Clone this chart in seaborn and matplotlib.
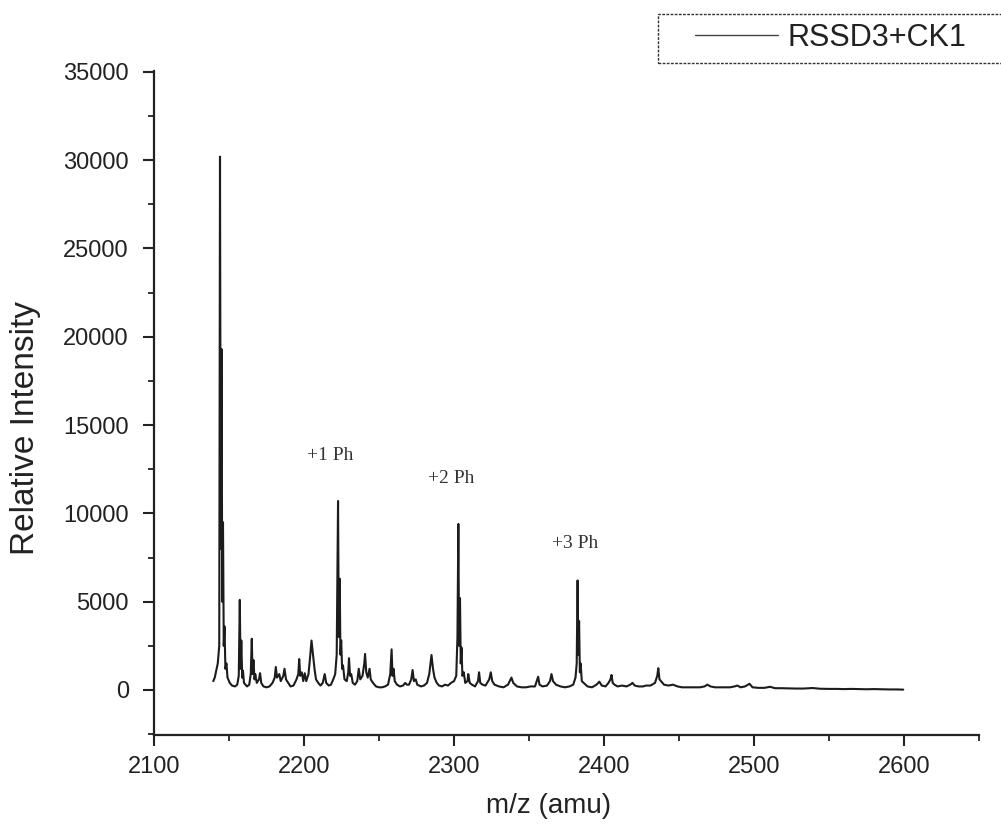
import matplotlib
matplotlib.use("Agg")
import matplotlib.pyplot as plt
from matplotlib.ticker import MultipleLocator
from matplotlib.patches import Rectangle
import seaborn as sns
import pandas as pd

# ---- data ----
mz = [2139.5, 2140.5, 2141.5, 2142.5, 2143.5, 2144.0, 2144.5, 2145.0, 2145.5, 2146.0,
      2146.5, 2147.0, 2147.6, 2148.3, 2149.0, 2150.5, 2152.0, 2154.0, 2155.5, 2156.5,
      2157.2, 2157.7, 2158.2, 2158.8, 2159.3, 2160.0, 2162.0, 2163.5, 2164.5, 2165.2,
      2165.7, 2166.3, 2167.0, 2167.5, 2168.5, 2170.0, 2170.7, 2171.5, 2173.0, 2175.0,
      2177.0, 2179.0, 2180.5, 2181.2, 2182.0, 2183.5, 2184.5, 2186.2, 2187.0, 2188.0,
      2189.5, 2191.0, 2193.0, 2195.0, 2196.2, 2196.8, 2197.5, 2198.5, 2199.5, 2200.5,
      2201.5, 2203.0, 2204.0, 2205.0, 2206.0, 2207.0, 2208.0, 2209.5, 2211.0, 2212.5,
      2213.8, 2214.8, 2216.5, 2218.0, 2219.5, 2220.8, 2221.8, 2222.7, 2223.2, 2223.8,
      2224.3, 2224.8, 2225.4, 2226.0, 2227.0, 2228.5, 2229.5, 2230.0, 2230.7, 2231.5,
      2232.5, 2234.0, 2235.5, 2236.5, 2237.5, 2239.0, 2240.2, 2240.7, 2241.5, 2242.5,
      2243.7, 2244.5, 2246.0, 2248.0, 2250.0, 2252.0, 2254.0, 2256.0, 2257.5, 2258.4,
      2259.0, 2259.7, 2260.5, 2262.0, 2264.0, 2266.0, 2267.5, 2268.5, 2270.0, 2271.5,
      2272.4, 2273.3, 2274.5, 2275.5, 2278.0, 2280.0, 2282.0, 2283.5, 2285.0, 2286.0,
      2287.0, 2288.5, 2290.0, 2292.0, 2294.0, 2296.0, 2298.0, 2300.0, 2301.5, 2302.3,
      2302.9, 2303.4, 2304.0, 2304.5, 2305.0, 2305.6, 2306.5, 2307.5, 2309.0, 2309.5,
      2310.5, 2312.0, 2314.0, 2316.0, 2316.7, 2317.5, 2319.0, 2321.0, 2323.5, 2324.5,
      2325.5, 2327.0, 2330.0, 2333.0, 2336.0, 2338.3, 2339.5, 2342.0, 2345.0, 2348.0,
      2351.0, 2354.0, 2356.1, 2357.0, 2359.0, 2362.0, 2364.0, 2365.0, 2366.0, 2368.0,
      2371.0, 2374.0, 2377.0, 2379.5, 2381.0, 2381.8, 2382.4, 2382.9, 2383.4, 2383.9,
      2384.4, 2385.2, 2386.5, 2389.0, 2392.0, 2395.0, 2396.9, 2398.5, 2401.0, 2403.0,
      2404.3, 2405.0, 2405.8, 2407.0, 2409.0, 2412.0, 2415.0, 2417.5, 2419.0, 2420.5,
      2423.0, 2426.0, 2428.0, 2431.0, 2434.0, 2435.5, 2436.2, 2437.0, 2438.0, 2440.0,
      2443.0, 2446.0, 2449.0, 2452.0, 2455.0, 2458.0, 2461.0, 2464.0, 2467.0, 2469.0,
      2471.0, 2474.0, 2478.0, 2481.0, 2484.0, 2487.0, 2489.0, 2491.0, 2494.0, 2497.0,
      2499.0, 2503.0, 2507.0, 2510.7, 2514.0, 2518.0, 2523.0, 2528.0, 2533.0, 2539.0,
      2544.0, 2550.0, 2555.0, 2560.0, 2565.0, 2570.0, 2575.0, 2580.0, 2585.0, 2590.0,
      2595.0, 2599.5]
intensity = [500, 700, 1100, 1500, 2500, 30200, 8000, 19300, 5000, 9500,
             2500, 3600, 1200, 1500, 700, 400, 250, 200, 300, 800,
             5100, 1200, 2800, 700, 1100, 400, 200, 300, 900, 2900,
             900, 1700, 600, 900, 400, 600, 950, 400, 200, 150,
             200, 400, 700, 1300, 700, 900, 500, 800, 1200, 600,
             400, 200, 250, 600, 900, 1750, 800, 1000, 500, 950,
             500, 900, 1800, 2800, 2000, 1200, 600, 400, 250, 400,
             900, 400, 250, 300, 600, 900, 2000, 10700, 3000, 6300,
             2000, 2800, 1200, 1400, 600, 500, 1000, 1800, 800, 900,
             400, 300, 500, 1200, 600, 800, 1500, 2040, 1000, 700,
             1200, 600, 400, 200, 150, 150, 200, 300, 900, 2300,
             800, 1200, 500, 300, 200, 250, 400, 300, 300, 600,
             1130, 500, 600, 300, 200, 250, 400, 900, 1980, 1200,
             700, 400, 250, 200, 300, 250, 400, 500, 800, 3000,
             9400, 2500, 5200, 1500, 2400, 800, 1000, 400, 500, 900,
             400, 300, 200, 500, 1000, 400, 300, 250, 600, 1000,
             500, 300, 200, 150, 300, 700, 400, 200, 150, 150,
             200, 200, 750, 300, 200, 250, 500, 900, 500, 300,
             200, 150, 200, 300, 700, 1500, 6200, 2000, 3900, 1000,
             1500, 500, 400, 200, 150, 300, 470, 250, 200, 400,
             600, 850, 400, 300, 200, 250, 200, 300, 400, 250,
             200, 200, 250, 250, 400, 800, 1230, 600, 500, 300,
             250, 300, 200, 150, 150, 150, 150, 150, 200, 300,
             200, 150, 150, 150, 150, 200, 250, 150, 200, 350,
             150, 120, 120, 180, 100, 100, 90, 80, 80, 110,
             70, 60, 60, 50, 60, 50, 40, 50, 40, 30,
             30, 20]

series_label = "RSSD3+CK1"
annot_text = ["+1 Ph", "+2 Ph", "+3 Ph"]
annot_mz = [2217.3, 2298.3, 2380.7]
annot_int = [13300, 12000, 8300]

x_ticks = [2100, 2200, 2300, 2400, 2500, 2600]
y_ticks = [0, 5000, 10000, 15000, 20000, 25000, 30000, 35000]

# ---- style ----
sns.set_style("ticks")
plt.rcParams['font.family'] = ['Liberation Sans', 'DejaVu Sans']

W, H = 1001, 838
fig = plt.figure(figsize=(W / 100, H / 100), dpi=100)
ax = fig.add_axes([154 / W, 1 - 735 / H, (979 - 154) / W, (735 - 71) / H])

df = pd.DataFrame({"mz": mz, "intensity": intensity})
sns.lineplot(data=df, x="mz", y="intensity", sort=False, estimator=None,
             color="#1c1c1c", linewidth=1.5, ax=ax, label=series_label, legend=False)

ax.set_xlim(2100, 2650)
ax.set_ylim(-2550, 35050)
ax.set_xticks(x_ticks)
ax.set_yticks(y_ticks)
ax.xaxis.set_minor_locator(MultipleLocator(50))
ax.yaxis.set_minor_locator(MultipleLocator(2500))

for s in ["top", "right"]:
    ax.spines[s].set_visible(False)
for s in ["left", "bottom"]:
    ax.spines[s].set_linewidth(1.6)
    ax.spines[s].set_color("#222222")

ax.tick_params(axis="both", which="major", direction="out", length=8, width=1.5,
               colors="#222222", labelsize=17, labelcolor="#222222")
ax.tick_params(axis="both", which="minor", direction="out", length=4.5, width=1.3,
               colors="#222222")
ax.tick_params(axis="x", which="major", pad=7)
ax.tick_params(axis="y", which="major", pad=10)

ax.set_xlabel("m/z (amu)", fontsize=20, color="#222222")
ax.set_ylabel("Relative Intensity", fontsize=24, color="#222222")
ax.xaxis.set_label_coords(0.478, -0.087)
ax.yaxis.set_label_coords(-0.137, 0.462)

for t, xm, yi in zip(annot_text, annot_mz, annot_int):
    ax.text(xm, yi, t, ha="center", va="center", fontsize=14,
            family=["Liberation Serif", "DejaVu Serif"], color="#333333")

# legend without frame, plus a dashed frame drawn on the figure
handles, labels = ax.get_legend_handles_labels()
leg = fig.legend(handles, labels, loc="center left",
                 bbox_to_anchor=(695 / W, 1 - 38 / H), bbox_transform=fig.transFigure,
                 frameon=False, fontsize=22, borderpad=0, borderaxespad=0,
                 handlelength=2.7, handletextpad=0.33)
for ln in leg.get_lines():
    ln.set_linewidth(1.0)
    ln.set_color("#444444")
for txt in leg.get_texts():
    txt.set_color("#222222")

fig.patches.append(Rectangle((658 / W, 1 - 63 / H), (1010 - 658) / W, (63 - 14) / H,
                             transform=fig.transFigure, fill=False,
                             linestyle=(0, (2, 1)), linewidth=1.0,
                             edgecolor="#333333"))

fig.savefig("out.png", dpi=100)
